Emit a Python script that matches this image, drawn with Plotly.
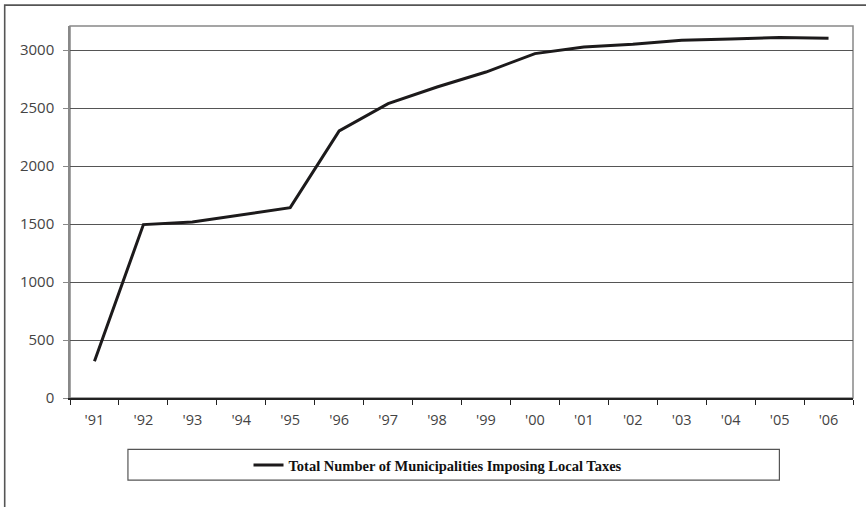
import plotly.graph_objects as go

years = ["'91", "'92", "'93", "'94", "'95", "'96", "'97", "'98", "'99", "'00",
         "'01", "'02", "'03", "'04", "'05", "'06"]
municipalities = [316, 1495, 1517, 1580, 1641, 2302, 2538, 2681, 2810, 2969,
                  3026, 3049, 3084, 3095, 3107, 3101]
y_ticks = [0, 500, 1000, 1500, 2000, 2500, 3000]
series_name = "Total Number of Municipalities Imposing Local Taxes"

fig = go.Figure()
fig.add_trace(go.Scatter(
    x=years, y=municipalities, mode="lines", name=series_name,
    line=dict(color="#1c1a1b", width=3),
    showlegend=True, hoverinfo="skip",
))

fig.update_layout(
    width=866, height=507,
    margin=dict(l=70, r=13, t=25.5, b=109.3),
    paper_bgcolor="white", plot_bgcolor="white",
    font=dict(family="Open Sans", size=15, color="#333"),
    showlegend=True,
    legend=dict(
        x=0.47, xanchor="center", y=-0.18, yanchor="middle",
        orientation="h", bgcolor="rgba(0,0,0,0)", borderwidth=0,
        font=dict(family="Liberation Serif", size=14.5, color="#111", weight="bold"),
        itemwidth=30,
    ),
    xaxis=dict(
        type="category", tickson="boundaries", range=[-0.5, 15.5],
        showgrid=False, showline=True, linecolor="#222", linewidth=1.5,
        ticks="outside", ticklen=5, tickcolor="#222", tickwidth=1,
        tickfont=dict(family="Open Sans", size=14.5, color="#444"),
        zeroline=False, fixedrange=True, ticklabelstandoff=8,
    ),
    yaxis=dict(
        range=[0, 3207], tickvals=y_ticks,
        showgrid=True, gridcolor="#555", gridwidth=1,
        showline=True, linecolor="#888", linewidth=1.5,
        ticks="outside", ticklen=5, tickcolor="#888",
        tickfont=dict(family="Open Sans", size=15, color="#444"),
        zeroline=False, ticklabelstandoff=6, fixedrange=True,
    ),
    shapes=[
        # plot area border
        dict(type="rect", xref="paper", yref="paper", x0=0, x1=1, y0=0, y1=1,
             line=dict(color="#888", width=1.5), layer="below"),
        # legend box
        dict(type="rect", xref="paper", yref="paper", x0=0.074, x1=0.906,
             y0=-0.221, y1=-0.138, line=dict(color="#555", width=1.2)),
        # outer chart frame
        dict(type="rect", xref="paper", yref="paper", x0=-0.0834, x1=1.03,
             y0=-0.31, y1=1.056, line=dict(color="#555", width=1.6)),
    ],
)

fig.write_html("out.html", config={"displayModeBar": False},
               post_script="document.body.style.margin='0';document.body.style.padding='0';")
